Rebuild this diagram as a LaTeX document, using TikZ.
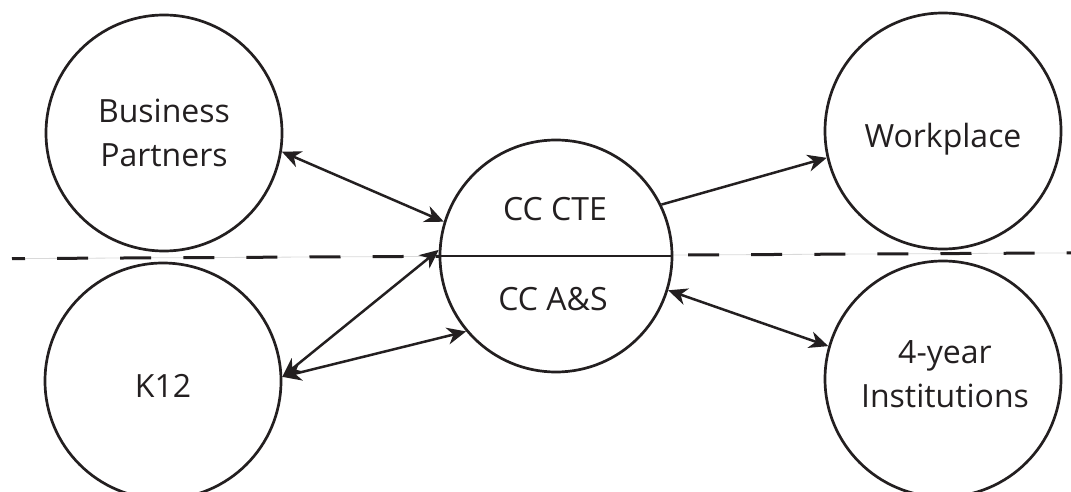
\documentclass[tikz,border=0pt]{standalone}
\usepackage{fontspec}
\setmainfont{Open Sans}
\usetikzlibrary{arrows.meta}
\definecolor{ink}{RGB}{35,31,32}
\begin{document}
\begin{tikzpicture}[x=1pt,y=-1pt,
  ring/.style={draw=ink, line width=2.7pt, circle, minimum size=236pt, inner sep=0pt},
  hub/.style={ring, fill=white, minimum size=232pt},
  lbl/.style={font=\fontsize{32}{40}\selectfont, anchor=base, text=ink, inner sep=0pt},
  link/.style={line width=2.5pt, draw=ink,
    arrows={Stealth[length=19pt,width=17pt,inset=6pt]-Stealth[length=19pt,width=17pt,inset=6pt]}},
  oneway/.style={line width=2.5pt, draw=ink,
    arrows={-Stealth[length=19pt,width=17pt,inset=6pt]}}
]
\useasboundingbox (0,0) rectangle (1071,492);

% dividing line between the two tiers
\coordinate (dl) at (12,258.6);
\coordinate (dr) at (1071,252.9);
\draw[gray!30, line width=0.8pt] (dl) -- (dr);
\draw[ink, line width=3pt, dash pattern=on 31pt off 32.1pt, dash phase=18pt] (dl) -- (dr);

% partner circles
\node[ring] (bp)   at (164,133) {};
\node[ring] (k12)  at (163,381) {};
\node[ring] (wp)   at (943,131) {};
\node[ring] (four) at (943,379) {};

% community college hub, split in two halves
\node[hub] (cc) at (556,256) {};
\draw[ink, line width=2.7pt] (cc.west) -- (cc.east);

% labels
\node[lbl] (bpa)  at (164,123) {Business};
\node[lbl] (bpb)  at (164,167) {Partners};
\node[lbl] (k12t) at (163,397) {K12};
\node[lbl] (wpt)  at (943,148) {Workplace};
\node[lbl] (fa)   at (945,363) {4-year};
\node[lbl] (fb)   at (945,407) {Institutions};
\node[lbl] (cte)  at (555,220) {CC CTE};
\node[lbl] (as)   at (553,310) {CC A\&S};

% connections
\draw[link]   (bp.-9.3)  -- (cc.163.9);
\draw[link]   (k12.2)    -- (cc.177);
\draw[link]   (k12.2)    -- (cc.220.5);
\draw[oneway] (cc.26.8)  -- (wp.193.2);
\draw[link]   (cc.-17.8) -- (four.164.4);
\end{tikzpicture}
\end{document}
